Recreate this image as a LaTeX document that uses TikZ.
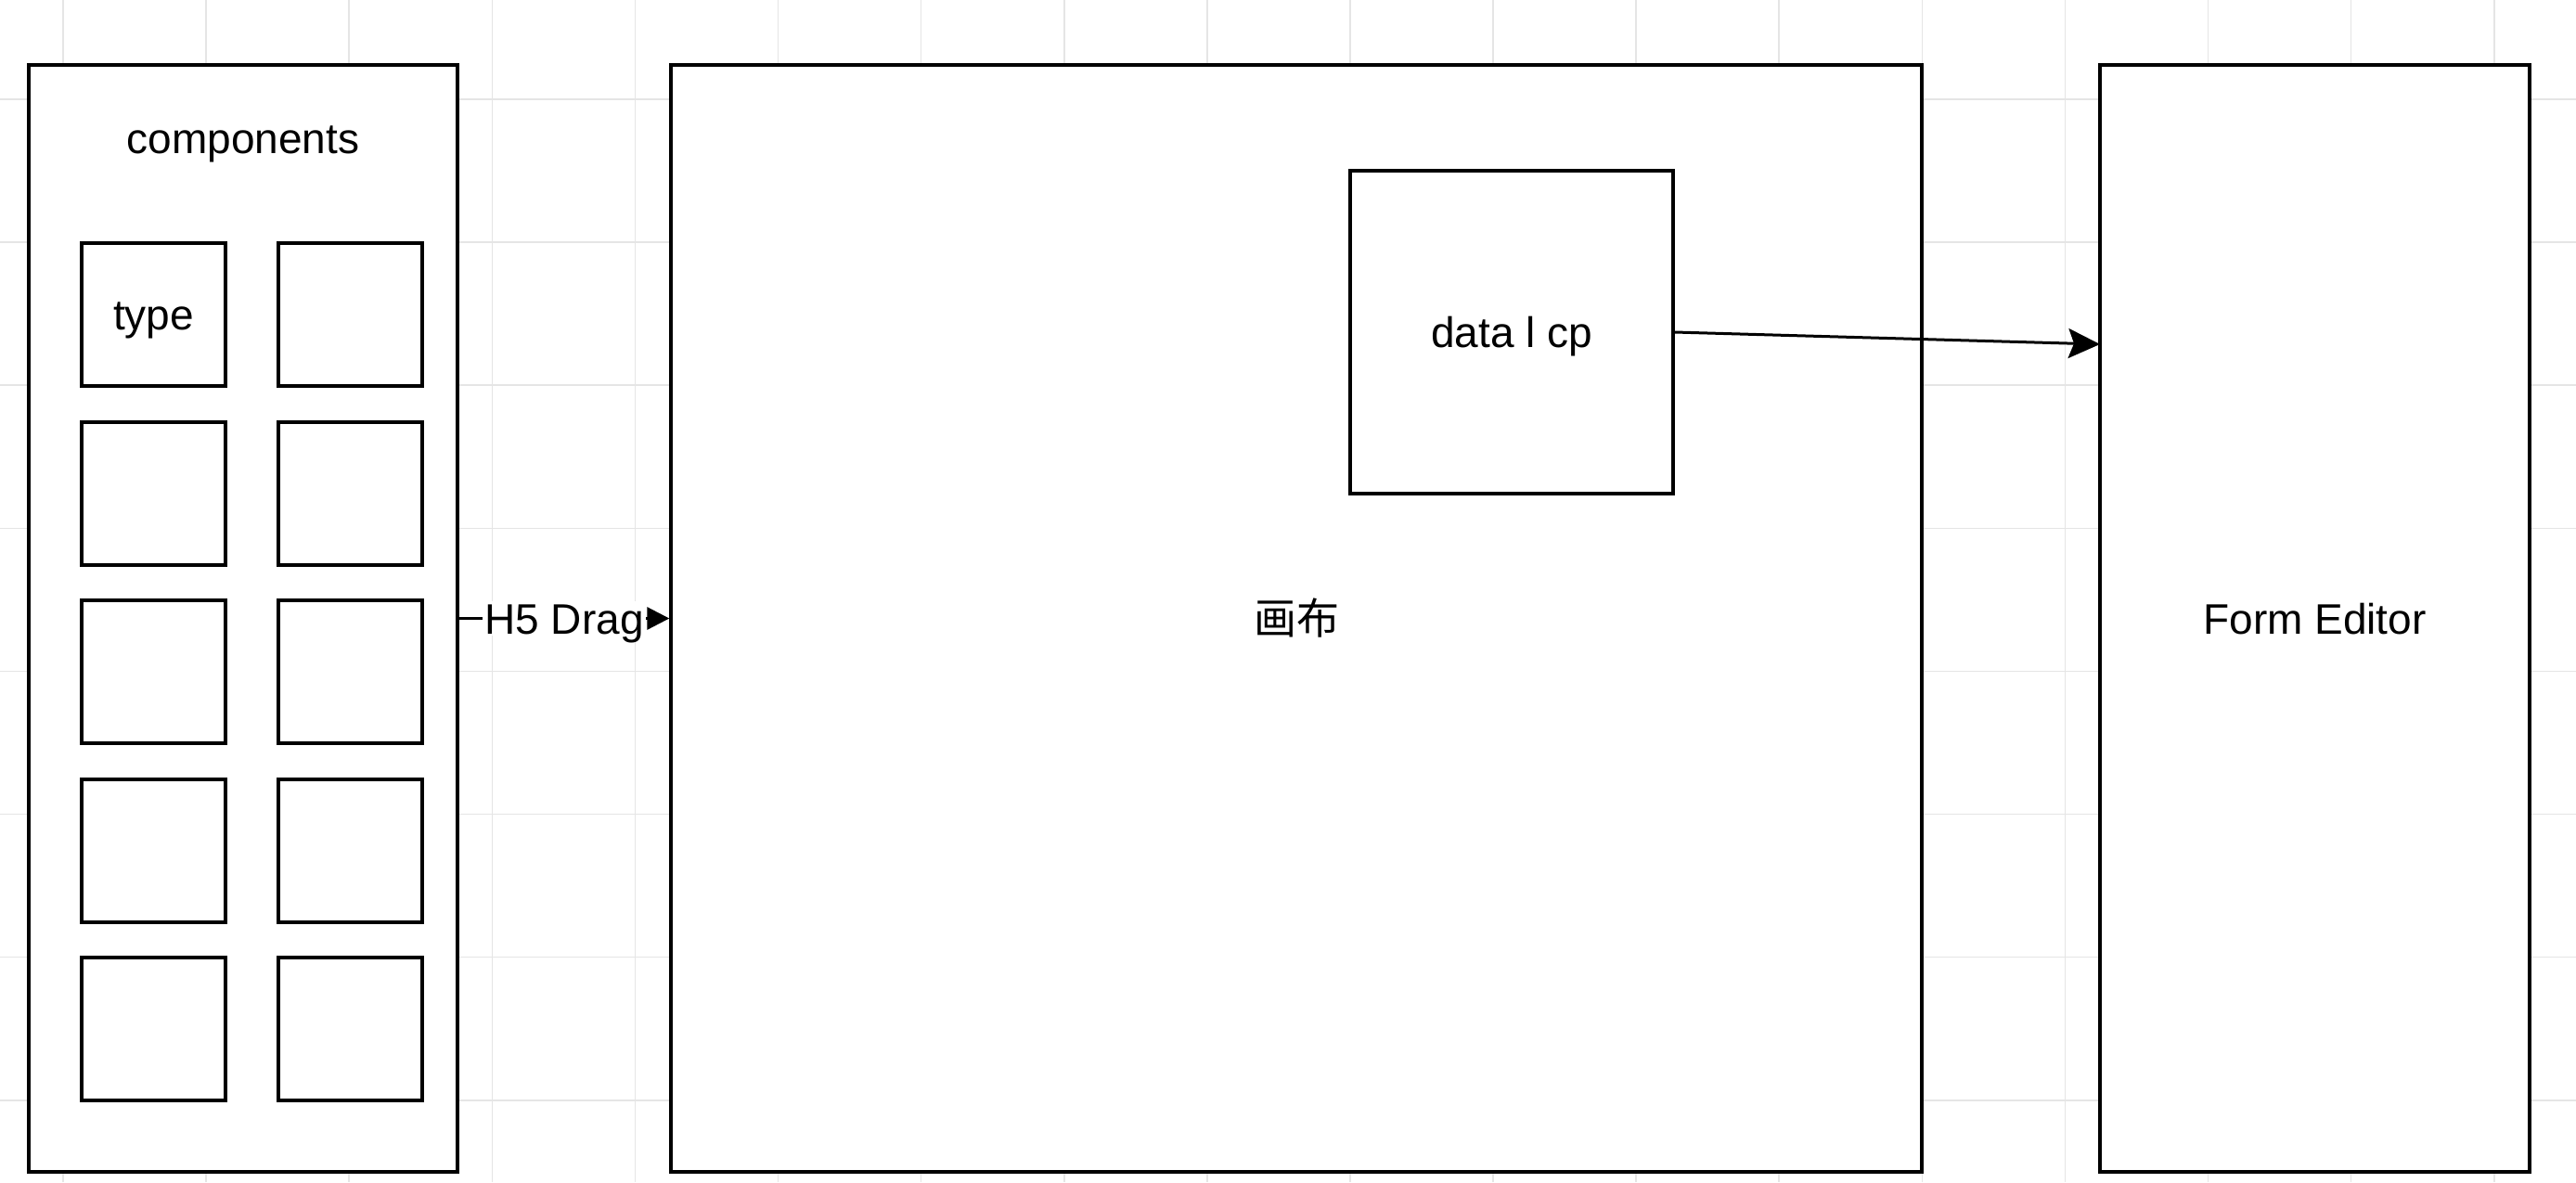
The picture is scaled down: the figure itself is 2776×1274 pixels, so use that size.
\documentclass[tikz,border=0pt]{standalone}
\usepackage{fontspec}
\setmainfont{Liberation Sans}
\newfontfamily\cjkfont{Noto Sans CJK SC}
\usetikzlibrary{arrows.meta}
\begin{document}
\begin{tikzpicture}[x=0.5pt,y=-0.5pt,
  fnt/.style={font=\fontsize{23}{28}\selectfont, text height=16.5pt, text depth=0pt},
  box/.style={draw=black, line width=1.7pt, fill=white, rectangle, inner sep=0pt, fnt},
  panel/.style={box, minimum height=596.5pt},
  cell/.style={box, minimum width=77.5pt, minimum height=77pt},
  txt/.style={inner sep=0pt, fnt},
  gridline/.style={draw=black!10, line width=0.8pt},
  conn/.style={draw=black, line width=1.5pt},
  lbl/.style={fill=white, inner sep=1pt, fnt}
]
\fill[white] (0,0) rectangle (2776,1274);
\useasboundingbox (0,0) rectangle (2776,1274);
\foreach \k in {0,...,17} \draw[gridline] ({68+154.1*\k},0) -- ({68+154.1*\k},1274);
\foreach \k in {0,...,7} \draw[gridline] (0,{107+154.1*\k}) -- (2776,{107+154.1*\k});

% panels
\node[panel, minimum width=231pt] (comp) at (262,666.5) {};
\node[txt] (comptitle) at (262,149) {components};
\node[panel, minimum width=674pt] (canvas) at (1397,666.5) {\cjkfont 画布};
\node[panel, minimum width=231.5pt] (form) at (2494.5,666.5) {Form Editor};

% component cells
\node[cell] (c11) at (165.5,339) {type};
\node[cell] (c12) at (377.5,339) {};
\node[cell] (c21) at (165.5,532) {};
\node[cell] (c22) at (377.5,532) {};
\node[cell] (c31) at (165.5,724) {};
\node[cell] (c32) at (377.5,724) {};
\node[cell] (c41) at (165.5,917) {};
\node[cell] (c42) at (377.5,917) {};
\node[cell] (c51) at (165.5,1109) {};
\node[cell] (c52) at (377.5,1109) {};

% data box
\node[box, minimum width=174pt, minimum height=174pt] (data) at (1629,358) {data l cp};

% connectors
\draw[conn, -{Triangle[length=12pt,width=12pt]}] (comp.east) -- node[lbl] {H5 Drag} (canvas.west);
\coordinate (fin) at (2263,371);
\draw[conn, -{Stealth[length=17pt,width=16pt,inset=3pt]}] (data.east) -- (fin);
\end{tikzpicture}
\end{document}
